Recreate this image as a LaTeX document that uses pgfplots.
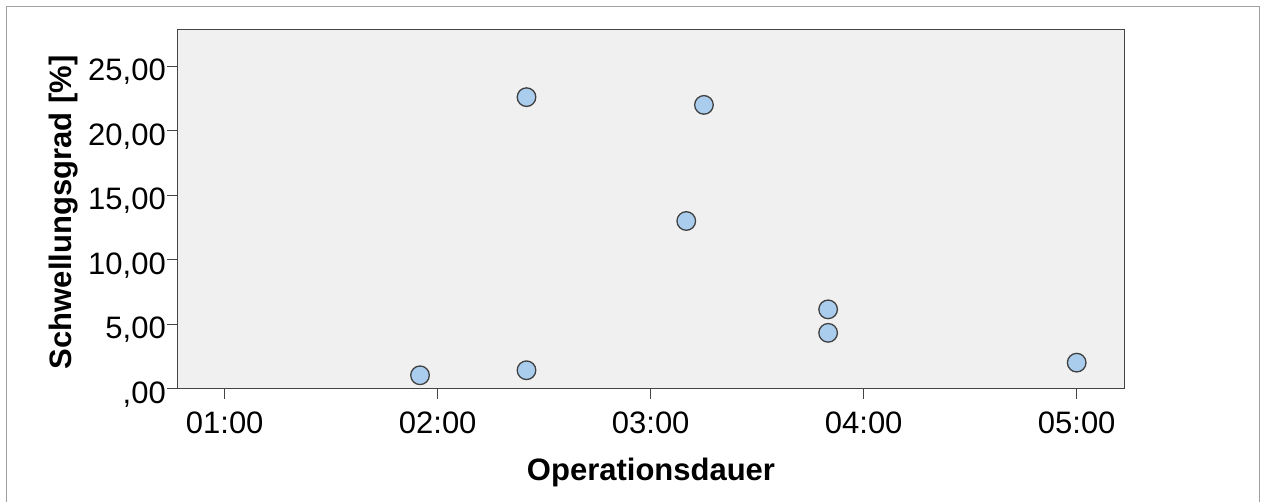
\documentclass[border=0pt]{standalone}
\usepackage{fontspec}
\setmainfont{Liberation Sans}
\usepackage{pgfplots}
\pgfplotsset{compat=1.18}
\definecolor{bg}{HTML}{F0F0F0}
\definecolor{mk}{HTML}{AACDEE}
\definecolor{frm}{HTML}{A0A0A0}
\definecolor{ax}{HTML}{444444}
\begin{document}
\begin{tikzpicture}[x=1pt,y=1pt]
\begin{axis}[
  scale only axis, width=947pt, height=359.4pt,
  xmin=0.7784, xmax=5.2244, ymin=0, ymax=27.86,
  axis background/.style={fill=bg},
  axis line style={ax, line width=1.2pt},
  xtick={1,2,3,4,5},
  xticklabels={01:00,02:00,03:00,04:00,05:00},
  ytick={0,5,10,15,20,25},
  yticklabels={{,00},{5,00},{10,00},{15,00},{20,00},{25,00}},
  xtick pos=left, ytick pos=left,
  tick align=outside, major tick length=10pt,
  tick style={ax, line width=1.2pt},
  tick label style={font=\fontsize{31}{36}\selectfont, inner sep=0pt},
  xticklabel style={anchor=base, yshift=-34.3pt},
  yticklabel style={anchor=base east, yshift=-14.5pt, xshift=-1.5pt},
  xlabel={Operationsdauer},
  ylabel={Schwellungsgrad [\%]},
  label style={font=\fontsize{31}{36}\selectfont\bfseries, inner sep=0pt},
  xlabel style={at={(axis description cs:0.5,-0.256)}, anchor=base},
  ylabel style={at={(axis description cs:-0.1117,0.4908)}, anchor=base},
  clip=false,
]
\addplot[only marks, mark=*, mark size=9.3pt,
  mark options={fill=mk, draw=black!75, line width=1.3pt}]
  coordinates {
  (1.917,1.04)
  (2.417,1.43)
  (2.417,22.6)
  (3.25,22.0)
  (3.167,13.0)
  (3.833,6.15)
  (3.833,4.33)
  (5.0,2.02)
  };
\end{axis}
\begin{scope}[shift={(-177.5,-111.3)}]
\draw[frm, line width=1.2pt] (6.5,-2) -- (6.5,493.5) -- (1259.5,493.5) -- (1259.5,-2);
\useasboundingbox (0,0) rectangle (1261,500);
\end{scope}
\end{tikzpicture}
\end{document}
